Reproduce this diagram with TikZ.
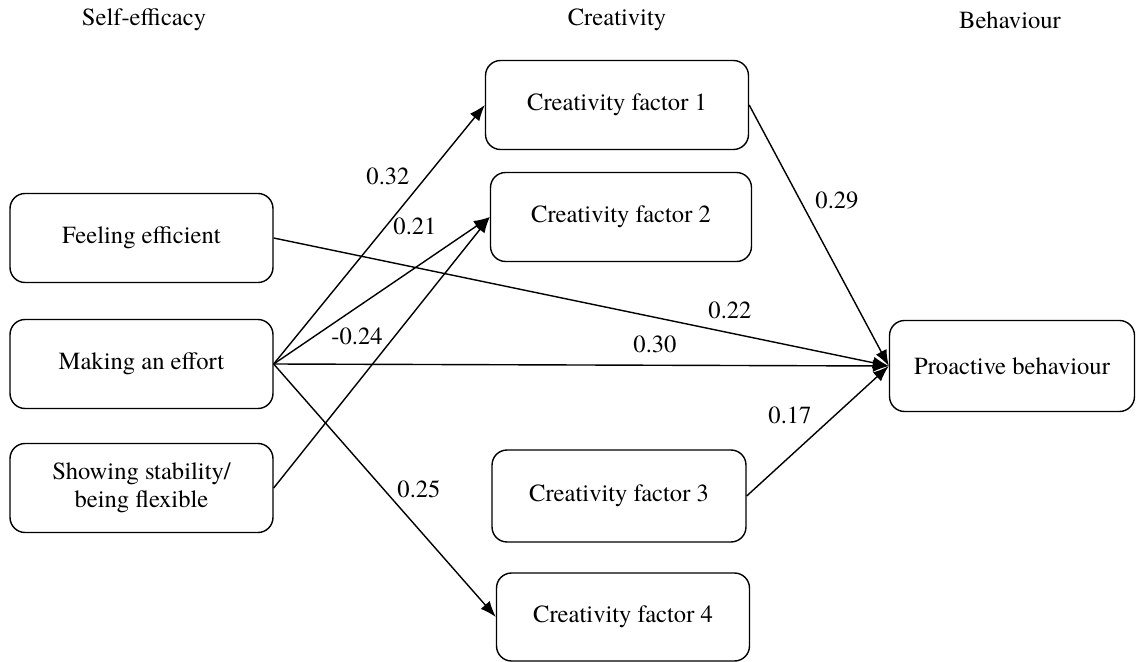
\documentclass[tikz,border=0pt]{standalone}
\usepackage{fontspec}
\setmainfont{texgyretermes}[Extension=.otf, UprightFont=*-regular]
\usepackage{tikz}
\usetikzlibrary{arrows.meta,positioning}

\begin{document}
\begin{tikzpicture}[
    x=0.02cm, y=-0.02cm,
    font=\rmfamily\fontsize{14}{16}\selectfont,
    box/.style={rectangle, draw, rounded corners=0.3cm, align=center, minimum width=5.26cm, minimum height=1.78cm, line width=0.8pt},
    arrow/.style={-{Latex[length=3.2mm,width=2.4mm]}, line width=0.8pt},
    lbl/.style={inner sep=1pt}
  ]
    \useasboundingbox (0,0) rectangle (1139,662);
    % column headers
    \node (hself) at (144,20) {Self-efficacy};
    \node (hcrea) at (617,20) {Creativity};
    \node (hbeh) at (1010,20) {Behaviour};
    % self-efficacy
    \node[box] (feel) at (141.5,238) {Feeling efficient};
    \node[box] (effort) at (141.5,364) {Making an effort};
    \node[box] (stable) at (141.5,488) {Showing stability/\\being flexible};
    % creativity factors
    \node[box] (cf1) at (617,105) {Creativity factor 1};
    \node[box, minimum width=5.22cm] (cf2) at (621,217) {Creativity factor 2};
    \node[box, minimum width=5.08cm, minimum height=1.84cm] (cf3) at (619,496) {Creativity factor 3};
    \node[box, minimum width=5.06cm, minimum height=1.76cm] (cf4) at (623,617) {Creativity factor 4};
    % behaviour
    \node[box, minimum width=4.9cm, minimum height=1.82cm] (proact) at (1012,366) {Proactive behaviour};
    % paths
    \draw[arrow] (effort.east) -- (cf1.west);
    \draw[arrow] (effort.east) -- (cf2.west);
    \draw[arrow] (stable.east) -- (cf2.west);
    \draw[arrow] (effort.east) -- (cf4.west);
    \draw[arrow] (effort.east) -- (proact.west);
    \draw[arrow] (feel.east) -- (proact.west);
    \draw[arrow] (cf1.east) -- (proact.west);
    \draw[arrow] (cf3.east) -- (proact.west);
    % coefficients
    \node[lbl] (c032) at (388,176) {0.32};
    \node[lbl] (c021) at (415,226) {0.21};
    \node[lbl] (c024) at (357,336) {-0.24};
    \node[lbl] (c025) at (419,489) {0.25};
    \node[lbl] (c030) at (655,344) {0.30};
    \node[lbl] (c022) at (730,310) {0.22};
    \node[lbl] (c029) at (837,200) {0.29};
    \node[lbl] (c017) at (790,415) {0.17};
  \end{tikzpicture}
\end{document}
